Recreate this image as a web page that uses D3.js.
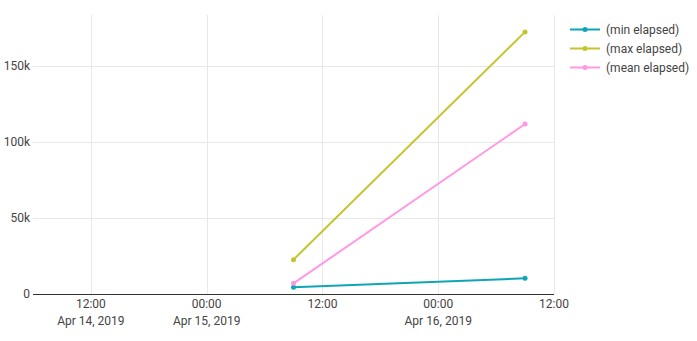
<!DOCTYPE html>
<html>
<head>
<meta charset="utf-8">
<script src="https://cdn.jsdelivr.net/npm/d3@7"></script>
<style>
  body { margin: 0; background: #fff; }
  text { font-family: Roboto, "Noto Sans", sans-serif; }
</style>
</head>
<body>
<div id="chart"></div>
<script>
// values
var times = ["2019-04-15T09:00:00", "2019-04-16T09:00:00"];
var minElapsed = [4400, 10300];
var maxElapsed = [22600, 172400];
var meanElapsed = [7000, 111800];
var seriesNames = ["(min elapsed)", "(max elapsed)", "(mean elapsed)"];
var seriesColors = ["#0ea5b4", "#c4c42e", "#ff99e4"];
var yTicks = [0, 50000, 100000, 150000];
var xTicks = ["2019-04-14T12:00:00", "2019-04-15T00:00:00", "2019-04-15T12:00:00",
              "2019-04-16T00:00:00", "2019-04-16T12:00:00"];

var W = 697, H = 341;
var plot = {left: 33, right: 554, top: 15, bottom: 294};

var parse = d3.isoParse;
var series = [minElapsed, maxElapsed, meanElapsed].map(function(vals, i) {
    return {
        name: seriesNames[i],
        color: seriesColors[i],
        values: vals.map(function(v, j) { return {t: parse(times[j]), v: v}; })
    };
});

var x = d3.scaleTime()
          .domain([parse("2019-04-14T06:00:00"), parse("2019-04-16T12:00:00")])
          .range([plot.left, plot.right]);
var y = d3.scaleLinear()
          .domain([0, 183500])
          .range([plot.bottom, plot.top]);

var svg = d3.select("#chart").append("svg")
            .attr("width", W)
            .attr("height", H);

// grid
svg.append("g").selectAll("line.h")
   .data(yTicks.slice(1))
   .enter().append("line")
   .attr("x1", plot.left).attr("x2", plot.right)
   .attr("y1", function(d) { return Math.round(y(d)) + 0.5; })
   .attr("y2", function(d) { return Math.round(y(d)) + 0.5; })
   .attr("stroke", "#e8e8e8");

svg.append("g").selectAll("line.v")
   .data(xTicks.map(parse))
   .enter().append("line")
   .attr("x1", function(d) { return Math.round(x(d)) + 0.5; })
   .attr("x2", function(d) { return Math.round(x(d)) + 0.5; })
   .attr("y1", plot.top).attr("y2", plot.bottom)
   .attr("stroke", "#e8e8e8");

// y axis labels
var fmt = function(d) { return d === 0 ? "0" : d3.format("~s")(d); };
svg.append("g").selectAll("text")
   .data(yTicks)
   .enter().append("text")
   .attr("x", 30)
   .attr("y", function(d) { return y(d) + 4; })
   .attr("text-anchor", "end")
   .attr("font-size", 12)
   .attr("fill", "#444")
   .text(fmt);

// x axis
svg.append("line")
   .attr("x1", plot.left).attr("x2", plot.right)
   .attr("y1", plot.bottom + 0.5).attr("y2", plot.bottom + 0.5)
   .attr("stroke", "#333");

var xl = svg.append("g").selectAll("g")
   .data(xTicks.map(parse))
   .enter().append("g")
   .attr("transform", function(d) { return "translate(" + x(d) + ",0)"; });
xl.append("text")
  .attr("y", 308)
  .attr("text-anchor", "middle")
  .attr("font-size", 12)
  .attr("fill", "#444")
  .text(d3.timeFormat("%H:%M"));
xl.filter(function(d) { return d.getHours() === 12 || d.getHours() === 0; })
  .append("text")
  .attr("y", 325)
  .attr("text-anchor", "middle")
  .attr("font-size", 12)
  .attr("fill", "#444")
  .text(function(d, i) {
      var day = d3.timeDay.floor(d);
      if (d.getHours() === 12 && i > 0) return "";
      return d3.timeFormat("%b %-d, %Y")(day);
  });

// lines
var line = d3.line()
             .x(function(d) { return x(d.t); })
             .y(function(d) { return y(d.v); });

var sg = svg.append("g").selectAll("g")
            .data(series)
            .enter().append("g");
sg.append("path")
  .attr("d", function(s) { return line(s.values); })
  .attr("fill", "none")
  .attr("stroke", function(s) { return s.color; })
  .attr("stroke-width", 2);
sg.selectAll("circle")
  .data(function(s) { return s.values.map(function(v) { return {t: v.t, v: v.v, c: s.color}; }); })
  .enter().append("circle")
  .attr("cx", function(d) { return x(d.t); })
  .attr("cy", function(d) { return y(d.v); })
  .attr("r", 2.5)
  .attr("fill", function(d) { return d.c; });

// legend
var lg = svg.append("g").selectAll("g")
            .data(series)
            .enter().append("g")
            .attr("transform", function(s, i) { return "translate(570," + (29.5 + i * 19) + ")"; });
lg.append("line")
  .attr("x1", 0).attr("x2", 30)
  .attr("stroke", function(s) { return s.color; })
  .attr("stroke-width", 2);
lg.append("circle")
  .attr("cx", 15).attr("r", 2.5)
  .attr("fill", function(s) { return s.color; });
lg.append("text")
  .attr("x", 36).attr("y", 4)
  .attr("font-size", 12)
  .attr("fill", "#444")
  .text(function(s) { return s.name; });
</script>
</body>
</html>
